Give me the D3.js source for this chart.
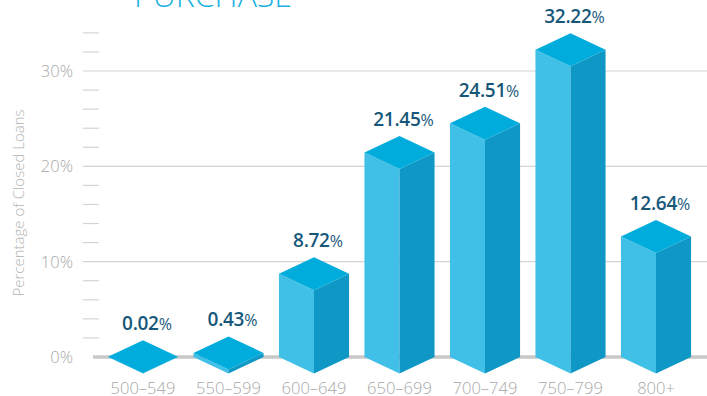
<!DOCTYPE html>
<html lang="en">
<head>
    <meta charset="UTF-8">
    <script src="https://cdn.jsdelivr.net/npm/d3@7"></script>
    <title>Purchase</title>
    <style>
        body { margin: 0; background: #fff; }
        svg { display: block; font-family: "Open Sans", sans-serif; }
    </style>
</head>
<body>
<script>
    // ---------------- data ----------------
    const categories = ["500–549", "550–599", "600–649", "650–699", "700–749", "750–799", "800+"];
    const values = [0.02, 0.43, 8.72, 21.45, 24.51, 32.22, 12.64];
    const valueLabels = ["0.02", "0.43", "8.72", "21.45", "24.51", "32.22", "12.64"];
    const majorTicks = [0, 10, 20, 30];
    const minorTicks = [2, 4, 6, 8, 12, 14, 16, 18, 22, 24, 26, 28, 32, 34];

    const width = 707, height = 396;

    const svg = d3.select("body").append("svg")
        .attr("width", width)
        .attr("height", height);

    // scales
    const y = d3.scaleLinear().domain([0, 30]).range([357, 71]);
    const x = d3.scaleBand()
        .domain(categories)
        .range([100.25, 698.75])
        .paddingInner(0.18)
        .paddingOuter(0.09);

    // title (cut off at top)
    svg.append("text")
        .attr("x", 134)
        .attr("y", 7)
        .attr("fill", "#1ab1e2")
        .attr("font-size", 32)
        .attr("font-weight", 300)
        .text("PURCHASE");

    // grid lines
    svg.selectAll("line.major")
        .data(majorTicks.filter(d => d > 0))
        .enter().append("line")
        .attr("x1", 83).attr("x2", width)
        .attr("y1", d => y(d)).attr("y2", d => y(d))
        .attr("stroke", "#d4d4d4").attr("stroke-width", 1.2);

    svg.selectAll("line.minor")
        .data(minorTicks)
        .enter().append("line")
        .attr("x1", 83).attr("x2", 99)
        .attr("y1", d => y(d)).attr("y2", d => y(d))
        .attr("stroke", "#d4d4d4").attr("stroke-width", 1.2);

    // baseline
    svg.append("line")
        .attr("x1", 93).attr("x2", width)
        .attr("y1", y(0)).attr("y2", y(0))
        .attr("stroke", "#c8c8c8").attr("stroke-width", 3.5);

    // y tick labels
    svg.selectAll("text.ytick")
        .data(majorTicks)
        .enter().append("text")
        .attr("x", 73)
        .attr("y", d => y(d) + 6)
        .attr("text-anchor", "end")
        .attr("fill", "#a8a8a8")
        .attr("font-size", 16.5)
        .attr("font-weight", 300)
        .text(d => d + "%");

    // y axis title
    svg.append("text")
        .attr("transform", "translate(24,203) rotate(-90)")
        .attr("text-anchor", "middle")
        .attr("fill", "#b4b4b4")
        .attr("font-size", 15)
        .attr("font-weight", 300)
        .text("Percentage of Closed Loans");

    // 3d bars
    const hw = x.bandwidth() / 2;
    const hh = 16.5;
    const base = y(0);

    const bars = svg.selectAll("g.bar")
        .data(categories.map((c, i) => ({ c, v: values[i], label: valueLabels[i] })))
        .enter().append("g");

    const pts = a => a.map(p => p.join(",")).join(" ");

    bars.append("polygon")
        .attr("fill", "#41c0e7")
        .attr("points", d => {
            const cx = x(d.c) + hw, t = y(d.v);
            return pts([[cx - hw, t], [cx, t + hh], [cx, base + hh], [cx - hw, base]]);
        });

    bars.append("polygon")
        .attr("fill", "#0f98c5")
        .attr("points", d => {
            const cx = x(d.c) + hw, t = y(d.v);
            return pts([[cx, t + hh], [cx + hw, t], [cx + hw, base], [cx, base + hh]]);
        });

    bars.append("polygon")
        .attr("fill", "#00acdc")
        .attr("points", d => {
            const cx = x(d.c) + hw, t = y(d.v);
            return pts([[cx - hw, t], [cx, t - hh], [cx + hw, t], [cx, t + hh]]);
        });

    // value labels
    const lab = bars.append("text")
        .attr("x", d => x(d.c) + hw + 4)
        .attr("y", d => y(d.v) - hh - 10)
        .attr("text-anchor", "middle")
        .attr("fill", "#17587a");
    lab.append("tspan")
        .attr("font-size", 19)
        .attr("font-weight", 600)
        .attr("letter-spacing", -0.3)
        .text(d => d.label);
    lab.append("tspan")
        .attr("font-size", 16)
        .attr("font-weight", 400)
        .text("%");

    // x labels
    svg.selectAll("text.xlab")
        .data(categories)
        .enter().append("text")
        .attr("x", d => x(d) + hw)
        .attr("y", 394)
        .attr("text-anchor", "middle")
        .attr("fill", "#a8a8a8")
        .attr("font-size", 16.5)
        .attr("font-weight", 300)
        .text(d => d);
</script>
</body>
</html>
